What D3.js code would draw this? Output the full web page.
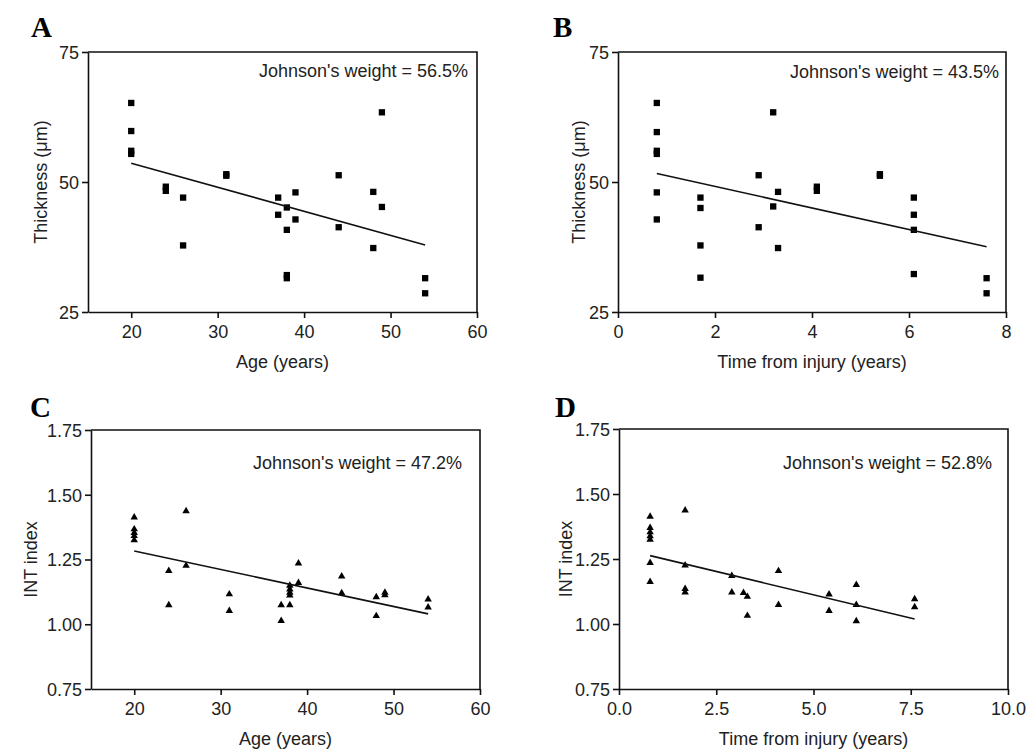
<!DOCTYPE html>
<html>
<head>
<meta charset="utf-8">
<script src="https://cdn.jsdelivr.net/npm/d3@7"></script>
<style>
  body { margin: 0; background: #fff; }
  svg text { font-family: "Liberation Sans", Arial, sans-serif; fill: #222; }
  .letter { font-family: "Liberation Serif", "Times New Roman", serif; font-weight: bold; fill: #000; }
</style>
</head>
<body>
<svg id="chart" width="1029" height="751"></svg>
<script>
// --- data ---
const ageA   = [20, 20, 20, 20, 24, 24, 26, 26, 31, 31, 37, 37, 38, 38, 38, 38, 39, 39, 44, 44, 48, 48, 49, 49, 54, 54];
const thickA = [65.2, 59.8, 56.0, 55.4, 49.1, 48.3, 47.0, 37.8, 51.5, 51.2, 47.0, 43.7, 45.1, 40.8, 32.1, 31.5, 48.0, 42.8, 51.3, 41.3, 48.1, 37.3, 63.4, 45.2, 31.5, 28.6];

const timeB  = [0.8, 0.8, 0.8, 0.8, 0.8, 0.8, 1.7, 1.7, 1.7, 1.7, 2.9, 2.9, 3.2, 3.2, 3.3, 3.3, 4.1, 4.1, 5.4, 5.4, 6.1, 6.1, 6.1, 6.1, 7.6, 7.6];
const thickB = [65.2, 59.6, 56.0, 55.4, 48.0, 42.8, 47.0, 45.0, 37.8, 31.6, 51.3, 41.3, 63.4, 45.3, 48.1, 37.3, 49.1, 48.3, 51.5, 51.2, 47.0, 43.7, 40.8, 32.3, 31.5, 28.6];

const ageC = [20, 20, 20, 20, 20, 24, 24, 26, 26, 31, 31, 37, 37, 38, 38, 38, 38, 38, 39, 39, 44, 44, 48, 48, 49, 49, 54, 54];
const intC = [1.413, 1.367, 1.353, 1.341, 1.325, 1.206, 1.074, 1.437, 1.226, 1.116, 1.052, 1.074, 1.013, 1.149, 1.135, 1.122, 1.112, 1.074, 1.235, 1.160, 1.185, 1.120, 1.105, 1.032, 1.122, 1.113, 1.096, 1.065];

const timeD = [0.8, 0.8, 0.8, 0.8, 0.8, 0.8, 0.8, 1.7, 1.7, 1.7, 1.7, 2.9, 2.9, 3.2, 3.3, 3.3, 4.1, 4.1, 5.4, 5.4, 6.1, 6.1, 6.1, 7.6, 7.6];
const intD  = [1.413, 1.370, 1.353, 1.338, 1.325, 1.235, 1.162, 1.437, 1.226, 1.135, 1.122, 1.185, 1.122, 1.120, 1.105, 1.032, 1.204, 1.074, 1.114, 1.051, 1.151, 1.074, 1.011, 1.096, 1.065];

// regression lines (end points)
const fitA = [[20, 53.6], [54, 37.9]];
const fitB = [[0.8, 51.65], [7.6, 37.55]];
const fitC = [[20, 1.283], [54, 1.040]];
const fitD = [[0.8, 1.263], [7.6, 1.019]];

const weights = ["56.5%", "43.5%", "47.2%", "52.8%"];
const ticksAge = [20, 30, 40, 50, 60];
const ticksTimeB = [0, 2, 4, 6, 8];
const ticksTimeD = [0, 2.5, 5, 7.5, 10];
const ticksThick = [25, 50, 75];
const ticksInt = [0.75, 1.00, 1.25, 1.50, 1.75];

const svg = d3.select("#chart");
const fontSize = 18;

const panels = [
  { letter: "A", xs: ageA, ys: thickA, fit: fitA, weight: weights[0], sym: d3.symbolSquare, symSize: 40,
    xDom: [15, 60], xTicks: ticksAge, xFmt: d3.format("d"), yDom: [25, 75], yTicks: ticksThick, yFmt: d3.format("d"),
    left: 88, right: 477, top: 52, bottom: 312, xTitle: "Age (years)", yTitle: "Thickness (\u03bcm)",
    letterPos: [31, 37], yTitleX: 47, wDx: 9, wDy: 25 },
  { letter: "B", xs: timeB, ys: thickB, fit: fitB, weight: weights[1], sym: d3.symbolSquare, symSize: 40,
    xDom: [0, 8], xTicks: ticksTimeB, xFmt: d3.format("d"), yDom: [25, 75], yTicks: ticksThick, yFmt: d3.format("d"),
    left: 618, right: 1006, top: 52, bottom: 312, xTitle: "Time from injury (years)", yTitle: "Thickness (\u03bcm)",
    letterPos: [553, 37], yTitleX: 585, wDx: 7, wDy: 26 },
  { letter: "C", xs: ageC, ys: intC, fit: fitC, weight: weights[2], sym: d3.symbolTriangle, symSize: 24,
    xDom: [15, 60], xTicks: ticksAge, xFmt: d3.format("d"), yDom: [0.75, 1.75], yTicks: ticksInt, yFmt: d3.format(".2f"),
    left: 91, right: 480, top: 430, bottom: 689, xTitle: "Age (years)", yTitle: "INT index",
    letterPos: [30, 417], yTitleX: 37, wDx: 18, wDy: 39 },
  { letter: "D", xs: timeD, ys: intD, fit: fitD, weight: weights[3], sym: d3.symbolTriangle, symSize: 24,
    xDom: [0, 10], xTicks: ticksTimeD, xFmt: d3.format(".1f"), yDom: [0.75, 1.75], yTicks: ticksInt, yFmt: d3.format(".2f"),
    left: 619, right: 1008, top: 429, bottom: 689, xTitle: "Time from injury (years)", yTitle: "INT index",
    letterPos: [555, 417], yTitleX: 572, wDx: 16, wDy: 40 }
];

panels.forEach(p => {
  const x = d3.scaleLinear().domain(p.xDom).range([p.left, p.right]);
  const y = d3.scaleLinear().domain(p.yDom).range([p.bottom, p.top]);
  const g = svg.append("g");

  // frame (top & right)
  g.append("path")
    .attr("d", `M${p.left},${p.top}H${p.right}V${p.bottom}`)
    .attr("fill", "none").attr("stroke", "#111").attr("stroke-width", 1.6);

  const xAxis = g.append("g").attr("transform", `translate(0,${p.bottom})`)
    .call(d3.axisBottom(x).tickValues(p.xTicks).tickFormat(p.xFmt).tickSize(6).tickSizeOuter(0).tickPadding(7));
  const yAxis = g.append("g").attr("transform", `translate(${p.left},0)`)
    .call(d3.axisLeft(y).tickValues(p.yTicks).tickFormat(p.yFmt).tickSize(6).tickSizeOuter(0).tickPadding(3));
  [xAxis, yAxis].forEach(a => {
    a.select(".domain").attr("stroke", "#111").attr("stroke-width", 1.6);
    a.selectAll(".tick line").attr("stroke", "#111").attr("stroke-width", 1.6);
    a.selectAll(".tick text").attr("font-size", fontSize).attr("fill", "#222")
      .attr("font-family", "'Liberation Sans', Arial, sans-serif");
  });
  yAxis.selectAll(".tick text").attr("dy", "0.36em");

  // points
  g.append("g").selectAll("path")
    .data(p.xs.map((v, i) => [v, p.ys[i]]))
    .join("path")
    .attr("transform", d => `translate(${x(d[0])},${y(d[1])})`)
    .attr("d", d3.symbol().type(p.sym).size(p.symSize))
    .attr("fill", "#000");

  // regression line
  g.append("path")
    .attr("d", d3.line().x(d => x(d[0])).y(d => y(d[1]))(p.fit))
    .attr("fill", "none").attr("stroke", "#111").attr("stroke-width", 1.6);

  g.append("text")
    .attr("x", p.right - p.wDx).attr("y", p.top + p.wDy)
    .attr("text-anchor", "end").attr("font-size", fontSize)
    .text(`Johnson's weight = ${p.weight}`);

  g.append("text")
    .attr("x", (p.left + p.right) / 2).attr("y", p.bottom + 56)
    .attr("text-anchor", "middle").attr("font-size", fontSize)
    .text(p.xTitle);

  g.append("text")
    .attr("transform", `translate(${p.yTitleX},${(p.top + p.bottom) / 2}) rotate(-90)`)
    .attr("text-anchor", "middle").attr("font-size", fontSize)
    .text(p.yTitle);

  g.append("text").attr("class", "letter")
    .attr("x", p.letterPos[0]).attr("y", p.letterPos[1])
    .attr("font-size", 29)
    .text(p.letter);
});
</script>
</body>
</html>
